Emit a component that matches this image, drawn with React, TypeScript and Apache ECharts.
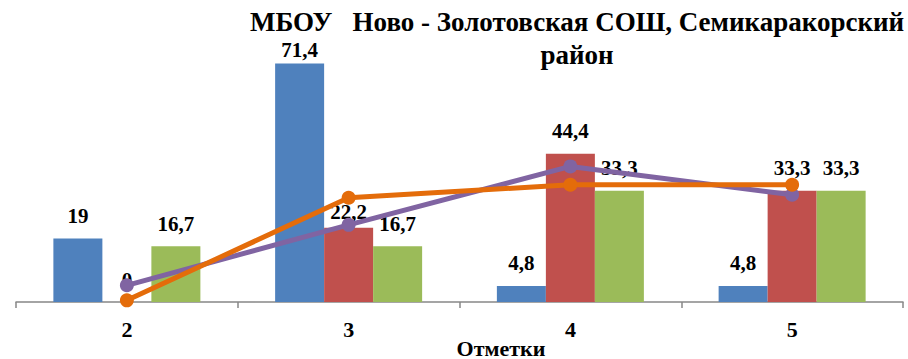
import React, { useEffect, useRef } from "react";
import * as echarts from "echarts";

const categories = ["2", "3", "4", "5"];
const seriesBlue = [19, 71.4, 4.8, 4.8];
const seriesRed = [0, 22.2, 44.4, 33.3];
const seriesGreen = [16.7, 16.7, 33.3, 33.3];
const linePurple = [5.0, 23.1, 40.6, 32.1];
const lineOrange = [0.5, 31.2, 35.1, 35.1];
const titleLine1 = "МБОУ   Ново - Золотовская СОШ, Семикаракорский";
const titleLine2 = "район";
const axisName = "Отметки";

const FONT = "Liberation Serif";

export default function App() {
  const ref = useRef<HTMLDivElement>(null);
  useEffect(() => {
    if (!ref.current) return;
    const chart = echarts.init(ref.current, undefined, { renderer: "svg" });
    const fmt = (p: any) => String(p.value).replace(".", ",");
    const barLabel = {
      show: true,
      position: "top",
      distance: 12,
      formatter: fmt,
      fontFamily: FONT,
      fontWeight: "bold",
      fontSize: 21,
      color: "#000",
    };
    // labels that sit closer to their bar in the reference (seriesIndex-dataIndex)
    const closeLabels: Record<string, number> = { "0-1": 3, "1-1": 5 };
    const mkBar = (si: number, name: string, data: number[], color: string) => ({
      name,
      type: "bar",
      data: data.map((v, i) => {
        const d = closeLabels[`${si}-${i}`];
        return d === undefined ? v : { value: v, label: { distance: d } };
      }),
      barWidth: 49,
      barGap: "0%",
      itemStyle: { color },
      label: barLabel,
      z: 2,
    });
    const mkLine = (name: string, data: number[], color: string, z: number) => ({
      name,
      type: "line",
      data,
      symbol: "circle",
      symbolSize: 14,
      lineStyle: { color, width: 5 },
      itemStyle: { color },
      z,
    });
    chart.setOption({
      animation: false,
      grid: { left: 16, right: 5, top: 34.8, bottom: 57, containLabel: false },
      xAxis: {
        type: "category",
        data: categories,
        axisLine: { show: true, lineStyle: { color: "#878787", width: 1.5 } },
        axisTick: { show: true, length: 6, lineStyle: { color: "#878787", width: 1.5 } },
        axisLabel: {
          fontFamily: FONT,
          fontWeight: "bold",
          fontSize: 22,
          color: "#000",
          margin: 16,
        },
      },
      yAxis: {
        type: "value",
        min: 0,
        max: 80,
        show: false,
        splitLine: { show: false },
      },
      series: [
        mkBar(0, "Ряд1", seriesBlue, "#4F81BD"),
        mkBar(1, "Ряд2", seriesRed, "#C0504D"),
        mkBar(2, "Ряд3", seriesGreen, "#9BBB59"),
        mkLine("Ряд4", linePurple, "#8064A2", 3),
        mkLine("Ряд5", lineOrange, "#E46C0A", 4),
      ],
      graphic: [
        {
          type: "text",
          x: 577,
          y: 22,
          style: {
            text: titleLine1,
            fontFamily: FONT,
            fontWeight: "bold",
            fontSize: 27,
            fill: "#000",
            align: "center",
            verticalAlign: "middle",
          },
        },
        {
          type: "text",
          x: 577,
          y: 55,
          style: {
            text: titleLine2,
            fontFamily: FONT,
            fontWeight: "bold",
            fontSize: 27,
            fill: "#000",
            align: "center",
            verticalAlign: "middle",
          },
        },
        {
          type: "text",
          x: 501,
          y: 348,
          style: {
            text: axisName,
            fontFamily: FONT,
            fontWeight: "bold",
            fontSize: 22,
            fill: "#000",
            align: "center",
            verticalAlign: "middle",
          },
        },
      ],
    });
    return () => chart.dispose();
  }, []);
  return (
    <div
      ref={ref}
      style={{ position: "fixed", left: 0, top: 0, width: 908, height: 359, background: "#fff" }}
    />
  );
}
